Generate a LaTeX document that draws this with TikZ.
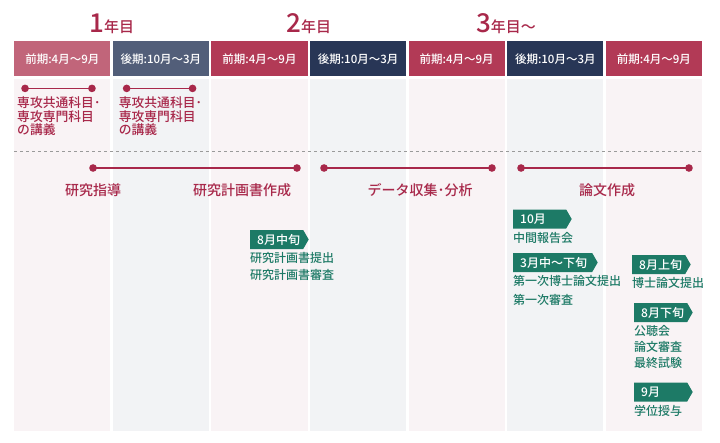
\documentclass[tikz,border=0pt]{standalone}
\usepackage{fontspec}
\setmainfont{Noto Sans CJK JP}[BoldFont={Noto Sans CJK JP Medium}]
\usepackage{tikz}
\usetikzlibrary{
  arrows.meta,
  shapes.symbols,
  positioning,
  calc
}
\definecolor{phRose}{HTML}{C1657A}
\definecolor{phSlate}{HTML}{525E79}
\definecolor{phRed}{HTML}{B23A56}
\definecolor{phNavy}{HTML}{283656}
\definecolor{phText}{HTML}{A8284A}
\definecolor{phGreen}{HTML}{1D7A66}
\definecolor{phPinkBg}{HTML}{F9F3F5}
\definecolor{phGreyBg}{HTML}{F2F3F5}
\definecolor{phRule}{HTML}{9A9A9A}
\tikzset{
  term/.style={
    minimum width=96.2pt, minimum height=35pt, inner sep=0pt,
    text=white, font=\fontsize{11.5}{12}\selectfont\bfseries
  },
  panel/.style={minimum width=96.2pt, minimum height=352pt, inner sep=0pt},
  year/.style={text=phText, font=\fontsize{15}{15}\selectfont\bfseries, inner sep=0pt},
  lecture/.style={
    text=phText, font=\fontsize{12.8}{13.6}\selectfont\bfseries,
    align=left, inner sep=0pt, anchor=north west
  },
  phase/.style={text=phText, font=\fontsize{14}{14}\selectfont\bfseries, inner sep=0pt},
  span/.style={
    draw=phText, line width=1.8pt,
    {Circle[length=7.5pt]}-{Circle[length=7.5pt]},
    shorten <=-3.7pt, shorten >=-3.7pt
  },
  divider/.style={draw=phRule, dashed, line width=0.6pt},
  tag/.style={
    signal, signal to=east, signal pointer angle=120,
    fill=phGreen, text=white, font=\fontsize{12}{12}\selectfont\bfseries,
    minimum height=19pt, text width=39pt, align=left,
    inner xsep=7pt, inner ysep=0pt, anchor=west
  },
  note/.style={
    text=phGreen, font=\fontsize{12}{17}\selectfont\bfseries,
    align=left, inner sep=0pt
  }
}
\begin{document}
\begin{tikzpicture}[x=1pt, y=-1pt]
  \useasboundingbox (0,0) rectangle (720,442);

  % semester headers
  \node[term, fill=phRose, anchor=north west] (h1) at (14,41) {前期:4月～9月};
  \node[term, fill=phSlate, right=2pt of h1] (h2) {後期:10月～3月};
  \node[term, fill=phRed, right=2pt of h2] (h3) {前期:4月～9月};
  \node[term, fill=phNavy, right=2pt of h3] (h4) {後期:10月～3月};
  \node[term, fill=phRed, right=2pt of h4] (h5) {前期:4月～9月};
  \node[term, fill=phNavy, right=2pt of h5] (h6) {後期:10月～3月};
  \node[term, fill=phRed, right=2pt of h6] (h7) {前期:4月～9月};

  % column bodies
  \node[panel, fill=phPinkBg, below=2pt of h1] (b1) {};
  \node[panel, fill=phGreyBg, below=2pt of h2] (b2) {};
  \node[panel, fill=phPinkBg, below=2pt of h3] (b3) {};
  \node[panel, fill=phGreyBg, below=2pt of h4] (b4) {};
  \node[panel, fill=phPinkBg, below=2pt of h5] (b5) {};
  \node[panel, fill=phGreyBg, below=2pt of h6] (b6) {};
  \node[panel, fill=phPinkBg, below=2pt of h7] (b7) {};

  % years
  \node[year, anchor=base] (y1) at ($(h1.north east)!0.5!(h2.north west)+(0,-9)$) {{\fontsize{26}{26}\selectfont 1}年目};
  \node[year, anchor=base] (y2) at ($(h3.north east)!0.5!(h4.north west)+(0,-9)$) {{\fontsize{26}{26}\selectfont 2}年目};
  \node[year, anchor=base] (y3) at ($(h5.north east)!0.5!(h6.north west)+(0,-9)$) {{\fontsize{26}{26}\selectfont 3}年目～};

  % lectures
  \coordinate (s1) at ($(b1.north west)+(11,10)$);
  \coordinate (e1) at ($(b1.north west)+(78,10)$);
  \coordinate (s2) at ($(b2.north west)+(14,10)$);
  \coordinate (e2) at ($(b2.north west)+(80,10)$);
  \draw[span] (s1) -- (e1);
  \draw[span] (s2) -- (e2);
  \node[lecture] (l1) at ($(b1.north west)+(3,18)$) {専攻共通科目･\\専攻専門科目\\の講義};
  \node[lecture] (l2) at ($(b2.north west)+(6,18)$) {専攻共通科目･\\専攻専門科目\\の講義};

  \coordinate (dl) at ($(b1.north west)+(0,73)$);
  \coordinate (dr) at ($(b7.north east)+(0,73)$);
  \draw[divider] (dl) -- (dr);

  % research phases
  \coordinate (r1a) at (93,168);
  \coordinate (r1b) at (297,168);
  \coordinate (r2a) at (324,168);
  \coordinate (r2b) at (492,168);
  \coordinate (r3a) at (521,168);
  \coordinate (r3b) at (689,168);
  \draw[span] (r1a) -- (r1b);
  \draw[span] (r2a) -- (r2b);
  \draw[span] (r3a) -- (r3b);
  \node[phase] (p1) at (93,190) {研究指導};
  \node[phase] (p2) at (242,190) {研究計画書作成};
  \node[phase] (p3) at (420,190) {データ収集･分析};
  \node[phase] (p4) at (607,190) {論文作成};

  % milestones
  \node[tag] (t1) at (250,239.5) {8月中旬};
  \node[note, below right=13pt and 0pt of t1.west] (n1) {研究計画書提出\\研究計画書審査};
  \node[tag] (t2) at (513,219) {10月};
  \node[note, below right=13pt and 0pt of t2.west] (n2) {中間報告会};
  \node[tag, text width=65pt] (t3) at (513,262.5) {3月中～下旬};
  \node[note, below right=13pt and 0pt of t3.west, font=\fontsize{12}{19}\selectfont\bfseries] (n3) {第一次博士論文提出\\第一次審査};
  \node[tag] (t4) at (632,264.5) {8月上旬};
  \node[note, below right=13pt and 0pt of t4.west] (n4) {博士論文提出};
  \node[tag] (t5) at (634,312.5) {8月下旬};
  \node[note, below right=13pt and 0pt of t5.west, font=\fontsize{12}{16}\selectfont\bfseries] (n5) {公聴会\\論文審査\\最終試験};
  \node[tag] (t6) at (634,392) {9月};
  \node[note, below right=13pt and 0pt of t6.west] (n6) {学位授与};
\end{tikzpicture}
\end{document}
